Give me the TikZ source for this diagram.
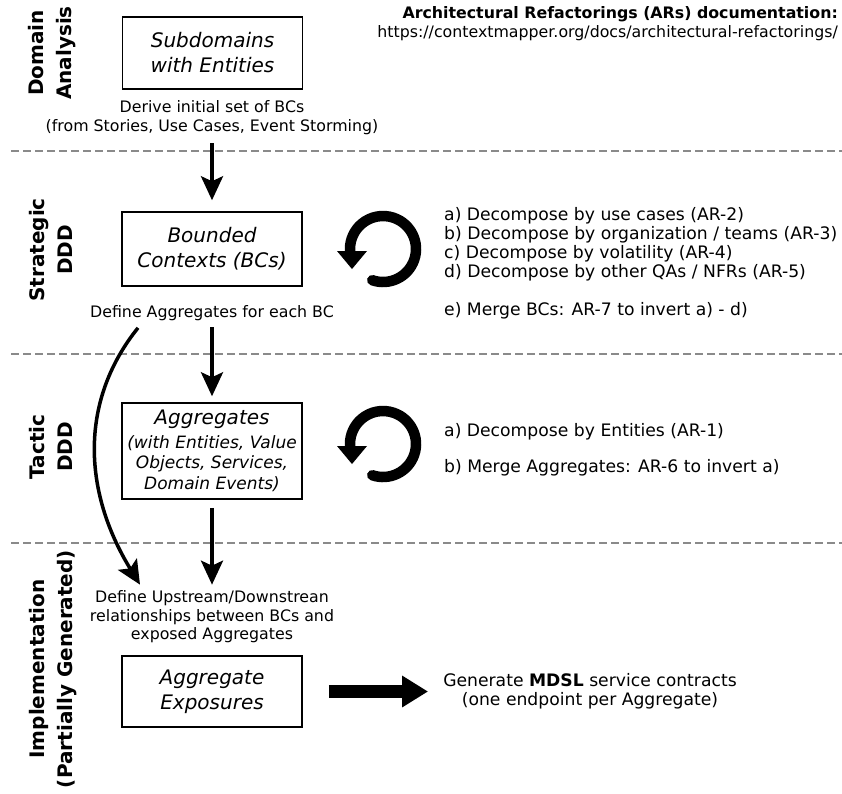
\documentclass[tikz,border=0pt]{standalone}
\usepackage{fontspec}
\setmainfont{DejaVu Sans}
\usetikzlibrary{arrows.meta,calc}
\definecolor{sepgray}{HTML}{8A8A8A}
\begin{document}
\begin{tikzpicture}[x=1pt,y=-1pt,
  box/.style={draw, line width=1.5pt, minimum width=180pt, align=center, inner sep=2pt,
    font=\itshape\fontsize{20}{25}\selectfont},
  lbl/.style={font=\fontsize{15.8}{19}\selectfont, align=center, inner sep=1pt},
  note/.style={font=\fontsize{17.2}{19}\selectfont, inner sep=1pt},
  side/.style={font=\bfseries\fontsize{20}{27.5}\selectfont, align=center, rotate=90, inner sep=0pt},
  flow/.style={line width=3.5pt, -{Stealth[length=24pt,width=22pt,inset=5pt]}},
  bigflow/.style={line width=13pt, -{Triangle[length=26pt,width=30pt]}},
  sepline/.style={sepgray, line width=1.5pt, dash pattern=on 8pt off 4pt},
  ring/.style={line width=10.5pt, line cap=round}]
\useasboundingbox (0,0) rectangle (842,793);

% separators
\draw[sepline] (11,151) -- (842,151);
\draw[sepline] (11,354) -- (842,354);
\draw[sepline] (11,543) -- (842,543);

% header
\node[font=\bfseries\fontsize{15.8}{19}\selectfont, anchor=east, inner sep=0pt] (title) at (838,14) {Architectural Refactorings (ARs) documentation:};
\node[lbl, anchor=east, inner sep=0pt] (url) at (838,33) {https://contextmapper.org/docs/architectural-refactorings/};

% side labels
\node[side] (sdom) at (52,53) {Domain\\Analysis};
\node[side] (sstr) at (51,250) {Strategic\\DDD};
\node[side] (stac) at (51,447) {Tactic\\DDD};
\node[side] (simp) at (53,669) {Implementation\\(Partially Generated)};

% main flow
\node[box, minimum height=72pt] (sub) at (212.5,53) {Subdomains\\with Entities};
\node[lbl] (derive) at (212,117.5) {Derive initial set of BCs\\(from Stories, Use Cases, Event Storming)};
\node[box, minimum height=74pt] (bc) at (212,249) {Bounded\\Contexts (BCs)};
\node[lbl] (defagg) at (212,313) {Define Aggregates for each BC};
\node[box, minimum height=96pt, font=\itshape\fontsize{17}{20.5}\selectfont] (agg) at (212,451)
  {{\fontsize{20}{24}\selectfont Aggregates}\\[3pt](with Entities, Value\\Objects, Services,\\Domain Events)};
\node[lbl, font=\fontsize{15.8}{18.5}\selectfont] (defrel) at (212,617) {Define Upstream/Downstrean\\relationships between BCs and\\exposed Aggregates};
\node[box, minimum height=71pt] (exp) at (212,691.5) {Aggregate\\Exposures};
\node[note, align=center] (gen) at (590,691.5) {Generate \textbf{MDSL} service contracts\\(one endpoint per Aggregate)};

% right-hand notes
\node[note, align=left, anchor=west] (strat) at (443,263) {a) Decompose by use cases (AR-2)\\b) Decompose by organization / teams (AR-3)\\c) Decompose by volatility (AR-4)\\d) Decompose by other QAs / NFRs (AR-5)\\[19pt]e) Merge BCs: AR-7 to invert a) - d)};
\node[note, align=left, anchor=west] (tact) at (443,450) {a) Decompose by Entities (AR-1)\\[17pt]b) Merge Aggregates: AR-6 to invert a)};

% connectors
\draw[flow, shorten <=7.5pt, shorten >=11pt] (derive) -- (bc);
\draw[flow, shorten <=5.5pt, shorten >=6pt] (defagg) -- (agg);
\draw[flow, shorten <=8pt, shorten >=5pt] (agg) -- (defrel);
\draw[flow] ($(defagg.south)+(-74,6)$) .. controls (80,400) and (82,490) .. ($(defrel.north)+(-72,-5)$);
\draw[bigflow, shorten <=26pt, shorten >=14pt] (exp) -- (gen);

% refactoring loops
\coordinate (c1) at (383,249);
\coordinate (c2) at (383,444);
\draw[ring] ($(c1)+(109:33)$) arc[start angle=109, end angle=-180, radius=33] -- ++(0,3);
\fill ($(c1)+(-46,2)$) -- ($(c1)+(-16,2)$) -- ($(c1)+(-31,20)$) -- cycle;
\draw[ring] ($(c2)+(109:33)$) arc[start angle=109, end angle=-180, radius=33] -- ++(0,3);
\fill ($(c2)+(-46,2)$) -- ($(c2)+(-16,2)$) -- ($(c2)+(-31,20)$) -- cycle;
\end{tikzpicture}
\end{document}
